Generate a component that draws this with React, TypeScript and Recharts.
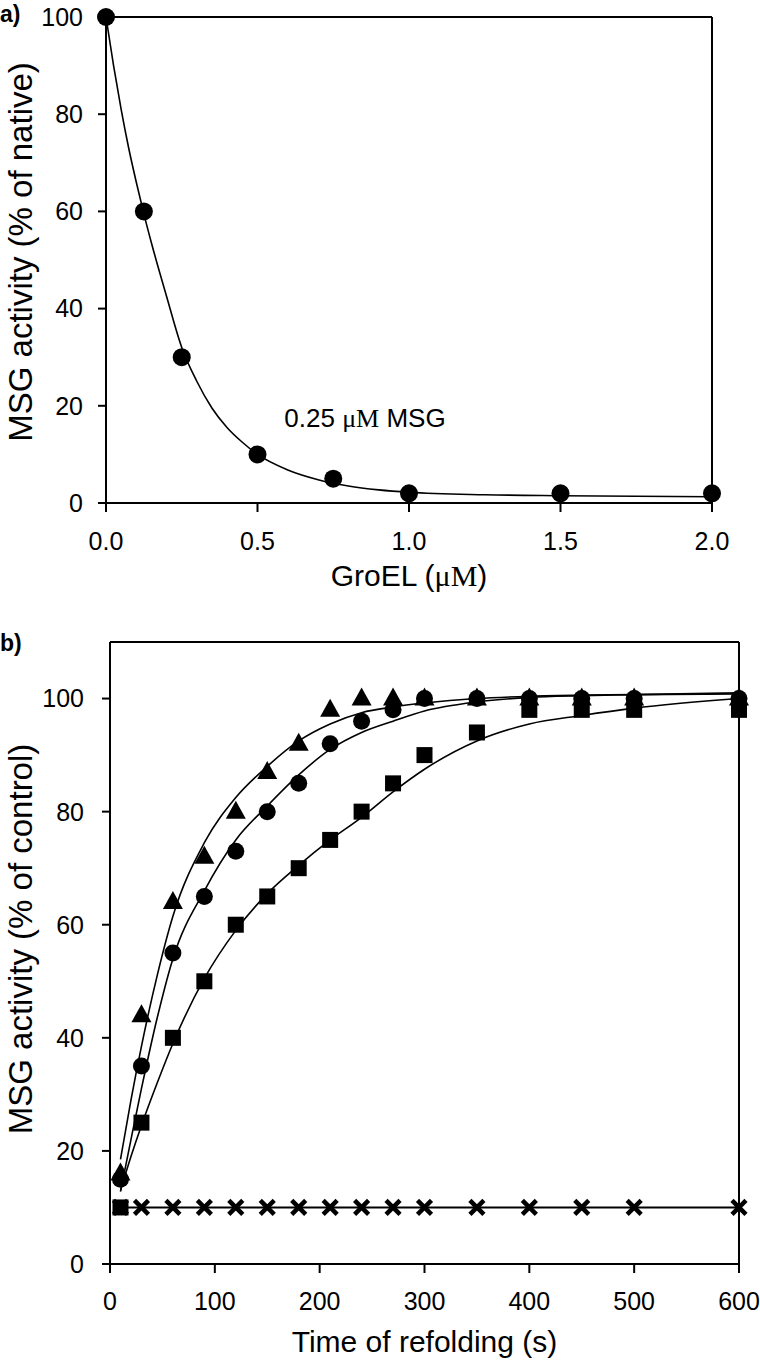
import React from 'react';
import { ComposedChart, Line, Scatter, XAxis, YAxis, ReferenceLine } from 'recharts';

// ---------- Panel a data ----------
const groelConc = [0, 0.125, 0.25, 0.5, 0.75, 1.0, 1.5, 2.0];
const msgActivityA = [100, 60, 30, 10, 5, 2, 2, 2];
const fitConcA = [0, 0.025, 0.05, 0.075, 0.1, 0.125, 0.15, 0.2, 0.25, 0.3, 0.35, 0.4, 0.45, 0.5, 0.6, 0.7, 0.8, 0.9, 1.0, 1.25, 1.5, 2.0];
const fitActA = [100, 90, 81, 73, 66, 59.5, 53.5, 42.5, 32, 25, 19.5, 15.5, 12.5, 10, 6.8, 4.8, 3.5, 2.7, 2.2, 1.7, 1.5, 1.3];
const xTicksA = [0, 0.5, 1.0, 1.5, 2.0];
const yTicksA = [0, 20, 40, 60, 80, 100];

// ---------- Panel b data ----------
const timeB = [10, 30, 60, 90, 120, 150, 180, 210, 240, 270, 300, 350, 400, 450, 500, 600];
const triangleB = [16, 44, 64, 72, 80, 87, 92, 98, 100, 100, 100, 100, 100, 100, 100, 100];
const circleB = [15, 35, 55, 65, 73, 80, 85, 92, 96, 98, 100, 100, 100, 100, 100, 100];
const squareB = [10, 25, 40, 50, 60, 65, 70, 75, 80, 85, 90, 94, 98, 98, 98, 98];
const crossB = [10, 10, 10, 10, 10, 10, 10, 10, 10, 10, 10, 10, 10, 10, 10, 10];
const fitTimeB = [10, 20, 30, 45, 60, 90, 120, 150, 180, 210, 240, 270, 300, 350, 400, 450, 500, 600];
const fitTriB = [18.5, 29, 38.5, 51, 61.5, 74.5, 82.5, 88, 92.5, 95.5, 97.5, 98.5, 99.2, 100, 100.4, 100.6, 100.7, 100.8];
const fitCircB = [12.8, 22, 31, 43.5, 54, 66, 75, 81, 86.5, 91, 94, 96, 97.8, 99.4, 100.2, 100.5, 100.7, 101];
const fitSqB = [13, 19, 24.5, 32, 39, 50.5, 59, 65.5, 70.5, 75, 79, 83.5, 87.5, 92.5, 95.5, 97, 98.3, 100];
const xTicksB = [0, 100, 200, 300, 400, 500, 600];
const yTicksB = [0, 20, 40, 60, 80, 100];

const zip = (xs: number[], ys: number[]) => xs.map((x, i) => ({ x, y: ys[i] }));

const ptsA = zip(groelConc, msgActivityA);
const fitA = zip(fitConcA, fitActA);
const triPts = zip(timeB, triangleB);
const circPts = zip(timeB, circleB);
const sqPts = zip(timeB, squareB);
const crossPts = zip(timeB, crossB);
const fitTri = zip(fitTimeB, fitTriB);
const fitCirc = zip(fitTimeB, fitCircB);
const fitSq = zip(fitTimeB, fitSqB);

const FONT = 'Liberation Sans, Arial, Helvetica, sans-serif';
const SERIF = 'Liberation Serif, Times New Roman, serif';
const tickStyle = { fontFamily: FONT, fontSize: 25, fill: '#000' };

const CircleA = (p: any) => <circle cx={p.cx} cy={p.cy} r={9} fill="#000" />;
const CircleB = (p: any) => <circle cx={p.cx} cy={p.cy} r={8.5} fill="#000" />;
const SquareB = (p: any) => <rect x={p.cx - 8} y={p.cy - 8} width={16} height={16} fill="#000" />;
const TriangleB = (p: any) => (
  <polygon points={`${p.cx},${p.cy - 11} ${p.cx - 10},${p.cy + 7} ${p.cx + 10},${p.cy + 7}`} fill="#000" />
);
const CrossB = (p: any) => (
  <g stroke="#000" strokeWidth={4.5} strokeLinecap="butt">
    <line x1={p.cx - 7} y1={p.cy - 7} x2={p.cx + 7} y2={p.cy + 7} />
    <line x1={p.cx - 7} y1={p.cy + 7} x2={p.cx + 7} y2={p.cy - 7} />
  </g>
);

const xTitle = (text: React.ReactNode, dy: number, size: number) => (props: any) => {
  const vb = props.viewBox;
  return (
    <text x={vb.x + vb.width / 2} y={vb.y + dy} textAnchor="middle" fontFamily={FONT} fontSize={size} fill="#000">
      {text}
    </text>
  );
};

const yTitle = (text: string, baselineX: number, cyOffset: number, size: number) => (props: any) => {
  const vb = props.viewBox;
  const cy = vb.y + vb.height / 2 + cyOffset;
  return (
    <text
      x={baselineX}
      y={cy}
      transform={`rotate(-90, ${baselineX}, ${cy})`}
      textAnchor="middle"
      fontFamily={FONT}
      fontSize={size}
      fill="#000"
    >
      {text}
    </text>
  );
};

const axisLine = { stroke: '#000', strokeWidth: 2 };
const tickLine = { stroke: '#000', strokeWidth: 2 };

function PanelA() {
  return (
    <ComposedChart width={760} height={600} margin={{ top: 17, right: 48, bottom: 0, left: 0 }}>
      <XAxis
        type="number"
        dataKey="x"
        domain={[0, 2]}
        ticks={xTicksA}
        tickFormatter={(v: number) => v.toFixed(1)}
        height={97}
        tickSize={9}
        tickMargin={20}
        tick={tickStyle}
        axisLine={axisLine}
        tickLine={tickLine}
        label={{
          content: xTitle(
            <>
              <tspan>GroEL (</tspan>
              <tspan fontFamily={SERIF}>μM</tspan>
              <tspan>)</tspan>
            </>,
            83,
            30
          ),
        }}
      />
      <YAxis
        type="number"
        dataKey="y"
        domain={[0, 100]}
        ticks={yTicksA}
        width={106}
        tickSize={8}
        tickMargin={15}
        tick={tickStyle}
        axisLine={axisLine}
        tickLine={tickLine}
        label={{ content: yTitle('MSG activity (% of native)', 32, -8, 33) }}
      />
      <ReferenceLine y={100} stroke="#000" strokeWidth={2} />
      <ReferenceLine x={2} stroke="#000" strokeWidth={2} />
      <Line data={fitA} dataKey="y" type="monotone" stroke="#000" strokeWidth={1.6} dot={false} isAnimationActive={false} />
      <Scatter data={ptsA} dataKey="y" shape={CircleA} isAnimationActive={false} />
    </ComposedChart>
  );
}

function PanelB() {
  return (
    <ComposedChart width={760} height={761} margin={{ top: 42, right: 21, bottom: 0, left: 0 }}>
      <XAxis
        type="number"
        dataKey="x"
        domain={[0, 600]}
        ticks={xTicksB}
        height={97}
        tickSize={9}
        tickMargin={19}
        tick={tickStyle}
        axisLine={axisLine}
        tickLine={tickLine}
        label={{ content: xTitle('Time of refolding (s)', 88, 30) }}
      />
      <YAxis
        type="number"
        dataKey="y"
        domain={[0, 110]}
        ticks={yTicksB}
        width={110}
        tickSize={8}
        tickMargin={18}
        tick={tickStyle}
        axisLine={axisLine}
        tickLine={tickLine}
        label={{ content: yTitle('MSG activity (% of control)', 32, -14, 33) }}
      />
      <ReferenceLine y={110} stroke="#000" strokeWidth={2} />
      <ReferenceLine x={600} stroke="#000" strokeWidth={2} />
      <Scatter data={crossPts} dataKey="y" shape={CrossB} line={{ stroke: '#000', strokeWidth: 2 }} isAnimationActive={false} />
      <Line data={fitSq} dataKey="y" type="monotone" stroke="#000" strokeWidth={1.6} dot={false} isAnimationActive={false} />
      <Line data={fitCirc} dataKey="y" type="monotone" stroke="#000" strokeWidth={1.6} dot={false} isAnimationActive={false} />
      <Line data={fitTri} dataKey="y" type="monotone" stroke="#000" strokeWidth={1.6} dot={false} isAnimationActive={false} />
      <Scatter data={sqPts} dataKey="y" shape={SquareB} isAnimationActive={false} />
      <Scatter data={triPts} dataKey="y" shape={TriangleB} isAnimationActive={false} />
      <Scatter data={circPts} dataKey="y" shape={CircleB} isAnimationActive={false} />
    </ComposedChart>
  );
}

export default function App() {
  return (
    <div style={{ position: 'absolute', left: 0, top: 0, width: 760, height: 1361, background: '#fff', overflow: 'hidden' }}>
      <div style={{ position: 'absolute', left: 0, top: 0 }}>
        <PanelA />
      </div>
      <div style={{ position: 'absolute', left: 0, top: 600 }}>
        <PanelB />
      </div>
      <svg width={760} height={1361} style={{ position: 'absolute', left: 0, top: 0, pointerEvents: 'none' }}>
        <text x={0} y={22} fontFamily={FONT} fontWeight="bold" fontSize={23} fill="#000">a)</text>
        <text x={0} y={651} fontFamily={FONT} fontWeight="bold" fontSize={23} fill="#000">b)</text>
        <text x={365} y={427} textAnchor="middle" fontFamily={FONT} fontSize={26} fill="#000">
          0.25 <tspan fontFamily={SERIF}>μM</tspan> MSG
        </text>
      </svg>
    </div>
  );
}
